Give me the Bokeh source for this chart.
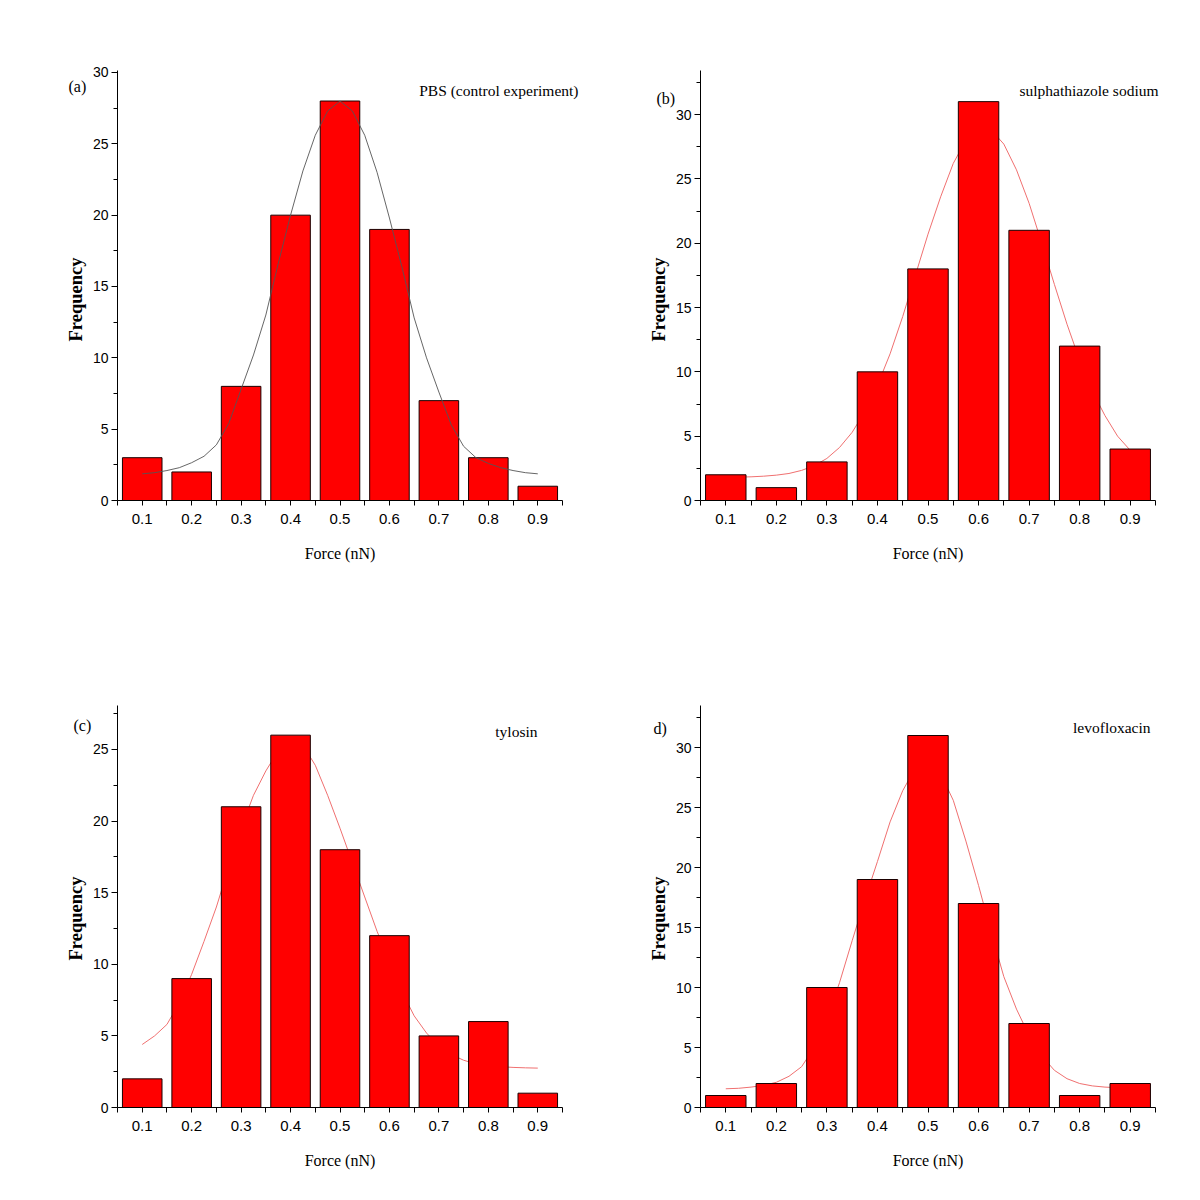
import math
from bokeh.plotting import figure
from bokeh.models import Range1d, FixedTicker, Label, LinearAxis
from bokeh.layouts import column, row
from bokeh.embed import file_html
from bokeh.resources import INLINE

# ---------------- data ----------------
force_bins = [0.1, 0.2, 0.3, 0.4, 0.5, 0.6, 0.7, 0.8, 0.9]
x_tick_labels = ["0.1", "0.2", "0.3", "0.4", "0.5", "0.6", "0.7", "0.8", "0.9"]
bin_edges = [0.05, 0.15, 0.25, 0.35, 0.45, 0.55, 0.65, 0.75, 0.85, 0.95]

freq_a = [3, 2, 8, 20, 28, 19, 7, 3, 1]
freq_b = [2, 1, 3, 10, 18, 31, 21, 12, 4]
freq_c = [2, 9, 21, 26, 18, 12, 5, 6, 1]
freq_d = [1, 2, 10, 19, 31, 17, 7, 1, 2]

# fitted curves
fit_x = [0.100, 0.125, 0.150, 0.175, 0.200, 0.225, 0.250, 0.275, 0.300,
         0.325, 0.350, 0.375, 0.400, 0.425, 0.450, 0.475, 0.500,
         0.525, 0.550, 0.575, 0.600, 0.625, 0.650, 0.675, 0.700,
         0.725, 0.750, 0.775, 0.800, 0.825, 0.850, 0.875, 0.900]
fit_a = [1.87, 1.95, 2.1, 2.3, 2.65, 3.1, 3.9, 5.4, 7.8,
         10.2, 13.0, 16.6, 20.0, 23.1, 25.6, 27.3, 28.0,
         27.3, 25.6, 23.0, 19.8, 16.4, 12.8, 10.0, 7.6,
         5.3, 3.8, 3.0, 2.6, 2.3, 2.1, 1.95, 1.87]
fit_b = [1.81, 1.82, 1.84, 1.89, 1.97, 2.1, 2.34, 2.71, 3.27,
         4.12, 5.3, 6.9, 8.95, 11.4, 14.3, 17.5, 20.7,
         23.6, 26.2, 28.0, 28.9, 28.8, 27.7, 25.7, 23.1,
         20.0, 16.8, 13.7, 10.9, 8.5, 6.6, 5.0, 3.9]
fit_c = [4.4, 5.0, 5.8, 7.3, 9.3, 11.6, 14.0, 16.8, 19.5,
         21.8, 23.5, 24.9, 25.7, 25.3, 23.9, 21.8, 19.5,
         17.1, 14.7, 12.3, 10.2, 8.1, 6.4, 5.2, 4.3,
         3.7, 3.3, 3.05, 2.9, 2.85, 2.8, 2.77, 2.75]
fit_d = [1.56, 1.6, 1.7, 1.85, 2.1, 2.6, 3.4, 5.0, 7.4,
         10.4, 13.9, 17.3, 20.5, 23.8, 26.4, 28.3, 29.0,
         27.8, 25.6, 22.2, 18.5, 14.6, 10.9, 8.2, 6.0,
         4.3, 3.1, 2.4, 2.0, 1.8, 1.7, 1.65, 1.6]

titles = ["PBS (control experiment)", "sulphathiazole sodium", "tylosin", "levofloxacin"]
panel_tags = ["(a)", "(b)", "(c)", "d)"]
x_title = "Force (nN)"
y_title = "Frequency"
y_major_a = [0, 5, 10, 15, 20, 25, 30]
y_minor_a = [2.5, 7.5, 12.5, 17.5, 22.5, 27.5]
y_major_b = [0, 5, 10, 15, 20, 25, 30]
y_minor_b = [2.5, 7.5, 12.5, 17.5, 22.5, 27.5, 32.5]
y_major_c = [0, 5, 10, 15, 20, 25]
y_minor_c = [2.5, 7.5, 12.5, 17.5, 22.5, 27.5]

SERIF = "Liberation Serif"
SANS = "Liberation Sans"


def make_panel(freq, fit, fit_color, fit_on_top, ymax, ymaj, ymin,
               box, axes_box, texts, ylab_pos):
    X0, Y0, W, H = box
    fl, fr, ft, fb = axes_box

    def dx(px):
        return 0.05 + (px - fl) / (fr - fl) * 0.9

    def dy(py):
        return (fb - py) / (fb - ft) * ymax

    p = figure(width=W, height=H, output_backend="svg",
               toolbar_location=None,
               x_axis_location=None, y_axis_location=None,
               x_range=Range1d(dx(X0), dx(X0 + W)),
               y_range=Range1d(dy(Y0 + H), dy(Y0)),
               min_border_left=0, min_border_right=0,
               min_border_top=0, min_border_bottom=0)
    p.outline_line_color = None
    p.grid.grid_line_color = None
    p.background_fill_color = "white"
    p.border_fill_color = "white"

    if not fit_on_top:
        p.line(fit_x, fit, line_color=fit_color, line_width=1)
    p.vbar(x=force_bins, top=freq, width=0.08, bottom=0,
           fill_color="#ff0000", line_color="#1a0000", line_width=1)
    if fit_on_top:
        p.line(fit_x, fit, line_color=fit_color, line_width=0.9)

    xa = LinearAxis(fixed_location=0, bounds=(0.05, 0.95))
    xa.ticker = FixedTicker(ticks=force_bins, minor_ticks=bin_edges)
    xa.major_label_overrides = {b: l for b, l in zip(force_bins, x_tick_labels)}
    xa.axis_label = x_title
    xa.axis_label_text_font = SERIF
    xa.axis_label_text_font_style = "normal"
    xa.axis_label_text_font_size = "16px"
    xa.axis_label_standoff = 18
    xa.major_label_text_font = SANS
    xa.major_label_text_font_size = "15px"
    xa.major_label_standoff = 8
    xa.major_tick_out = 5
    xa.major_tick_in = 0
    xa.minor_tick_out = 5
    xa.minor_tick_in = 0

    ya = LinearAxis(fixed_location=0.05, bounds=(0, ymax))
    ya.ticker = FixedTicker(ticks=ymaj, minor_ticks=ymin)
    ya.major_label_text_font = SANS
    ya.major_label_text_font_size = "14px"
    ya.major_label_standoff = 3
    ya.major_tick_out = 6
    ya.major_tick_in = 0
    ya.minor_tick_out = 4
    ya.minor_tick_in = 0

    for ax in (xa, ya):
        ax.axis_line_color = "black"
        ax.major_tick_line_color = "black"
        ax.minor_tick_line_color = "black"
        ax.major_label_text_color = "black"
        ax.axis_label_text_color = "black"
    p.add_layout(xa, "below")
    p.add_layout(ya, "left")

    # rotated y-axis title
    p.add_layout(Label(x=dx(ylab_pos[0]), y=dy(ylab_pos[1]), text=y_title,
                       angle=math.pi / 2, text_font=SERIF,
                       text_font_style="bold", text_font_size="18.5px",
                       text_align="center", text_baseline="middle",
                       text_color="black"))

    for txt, px, py, align, size in texts:
        p.add_layout(Label(x=dx(px), y=dy(py), text=txt, text_font=SERIF,
                           text_font_size=size, text_align=align,
                           text_baseline="middle", text_color="black"))
    return p


pa = make_panel(freq_a, fit_a, "#555555", True, 30.14, y_major_a, y_minor_a,
                (0, 0, 592, 638), (117, 562, 70, 500),
                [(panel_tags[0], 68, 86, "left", "16px"),
                 (titles[0], 578, 90, "right", "15.5px")], (75, 299))
pb = make_panel(freq_b, fit_b, "#f07070", False, 33.42, y_major_b, y_minor_b,
                (592, 0, 600, 638), (700, 1155, 70, 500),
                [(panel_tags[1], 656, 98, "left", "16px"),
                 (titles[1], 1158, 90, "right", "15.5px")], (658, 299))
pc = make_panel(freq_c, fit_c, "#f07070", False, 28.07, y_major_c, y_minor_c,
                (0, 638, 592, 552), (117, 562, 705, 1107),
                [(panel_tags[2], 73, 725, "left", "16px"),
                 (titles[2], 537, 731, "right", "15.5px")], (75, 918))
pd_ = make_panel(freq_d, fit_d, "#f07070", False, 33.5, y_major_b, y_minor_b,
                 (592, 638, 600, 552), (700, 1155, 705, 1107),
                 [(panel_tags[3], 653, 728, "left", "16px"),
                  (titles[3], 1150, 727, "right", "15.5px")], (658, 918))

layout = column(row(pa, pb), row(pc, pd_))
open("out.html", "w").write(file_html(layout, INLINE))
